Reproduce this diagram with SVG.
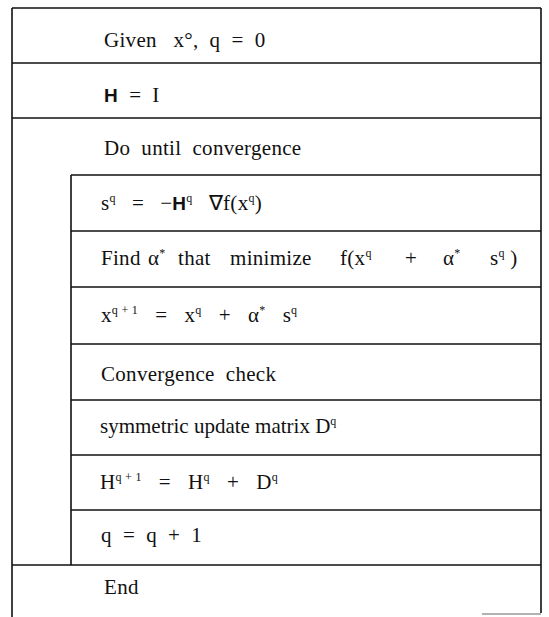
<svg xmlns="http://www.w3.org/2000/svg" width="549" height="617" viewBox="0 0 549 617">
<style>
.ln{stroke:#111;stroke-width:1.6;fill:none}
.t{font-family:"Liberation Serif","Times New Roman",serif;font-size:21px;fill:#111;white-space:pre;letter-spacing:0.3px}
.m{word-spacing:2.5px}
.sup{font-size:12px}
.b{font-family:"Liberation Sans",Arial,sans-serif;font-weight:bold;font-size:19px}
</style>
<rect width="549" height="617" fill="#fff"/>
<g id="connectors">
<path class="ln" d="M12 8 H541 M12 8 V617 M541 8 V613"/>
<path d="M482 614 H541" stroke="#999" stroke-width="1.4"/>
</g>
<g id="n1"><text class="t" x="104" y="47" xml:space="preserve">Given   x°,  q  =  0</text><path class="ln" d="M12 63 H541"/></g>
<g id="n2"><text class="t" x="104" y="102" xml:space="preserve"><tspan class="b">H</tspan>  =  I</text><path class="ln" d="M12 118 H541"/></g>
<g id="n3"><text class="t" x="104" y="155" xml:space="preserve">Do  until  convergence</text></g>
<g id="inner">
<path class="ln" d="M71 175 H541 M71 175 V565 M12 565 H541"/>
<g id="n4"><text class="t m" x="101" y="210" xml:space="preserve">s<tspan class="sup" dy="-8">q</tspan><tspan dy="8">  =  −</tspan><tspan class="b">H</tspan><tspan class="sup" dy="-8">q</tspan><tspan dy="8">  ∇f(x</tspan><tspan class="sup" dy="-8">q</tspan><tspan dy="8">)</tspan></text><path class="ln" d="M71 231 H541"/></g>
<g id="n5"><text class="t" y="265" xml:space="preserve"><tspan x="101">Find</tspan><tspan x="148">α</tspan><tspan class="sup" dy="-8">*</tspan><tspan x="178" dy="8">that</tspan><tspan x="230">minimize</tspan><tspan x="340">f(x</tspan><tspan class="sup" dy="-8">q</tspan><tspan x="405" dy="8">+</tspan><tspan x="443">α</tspan><tspan class="sup" dy="-8">*</tspan><tspan x="490" dy="8">s</tspan><tspan class="sup" dy="-8">q</tspan><tspan dy="8"> )</tspan></text><path class="ln" d="M71 287 H541"/></g>
<g id="n6"><text class="t" style="word-spacing:3px" x="101" y="322" xml:space="preserve">x<tspan class="sup" dy="-8" style="word-spacing:0">q + 1</tspan><tspan dy="8">  =  x</tspan><tspan class="sup" dy="-8">q</tspan><tspan dy="8">  +  α</tspan><tspan class="sup" dy="-8">*</tspan><tspan dy="8">  s</tspan><tspan class="sup" dy="-8">q</tspan></text><path class="ln" d="M71 344 H541"/></g>
<g id="n7"><text class="t" x="101" y="381" xml:space="preserve">Convergence  check</text><path class="ln" d="M71 400 H541"/></g>
<g id="n8"><text class="t" style="letter-spacing:0" x="100" y="433" xml:space="preserve">symmetric update matrix D<tspan class="sup" dy="-8">q</tspan></text><path class="ln" d="M71 455 H541"/></g>
<g id="n9"><text class="t" style="word-spacing:3px" x="100" y="489" xml:space="preserve">H<tspan class="sup" dy="-8" style="word-spacing:0">q + 1</tspan><tspan dy="8">  =  H</tspan><tspan class="sup" dy="-8">q</tspan><tspan dy="8">  +  D</tspan><tspan class="sup" dy="-8">q</tspan></text><path class="ln" d="M71 510 H541"/></g>
<g id="n10"><text class="t" x="101" y="542" xml:space="preserve">q  =  q  +  1</text></g>
</g>
<g id="n11"><text class="t" x="104" y="594">End</text></g>
</svg>
